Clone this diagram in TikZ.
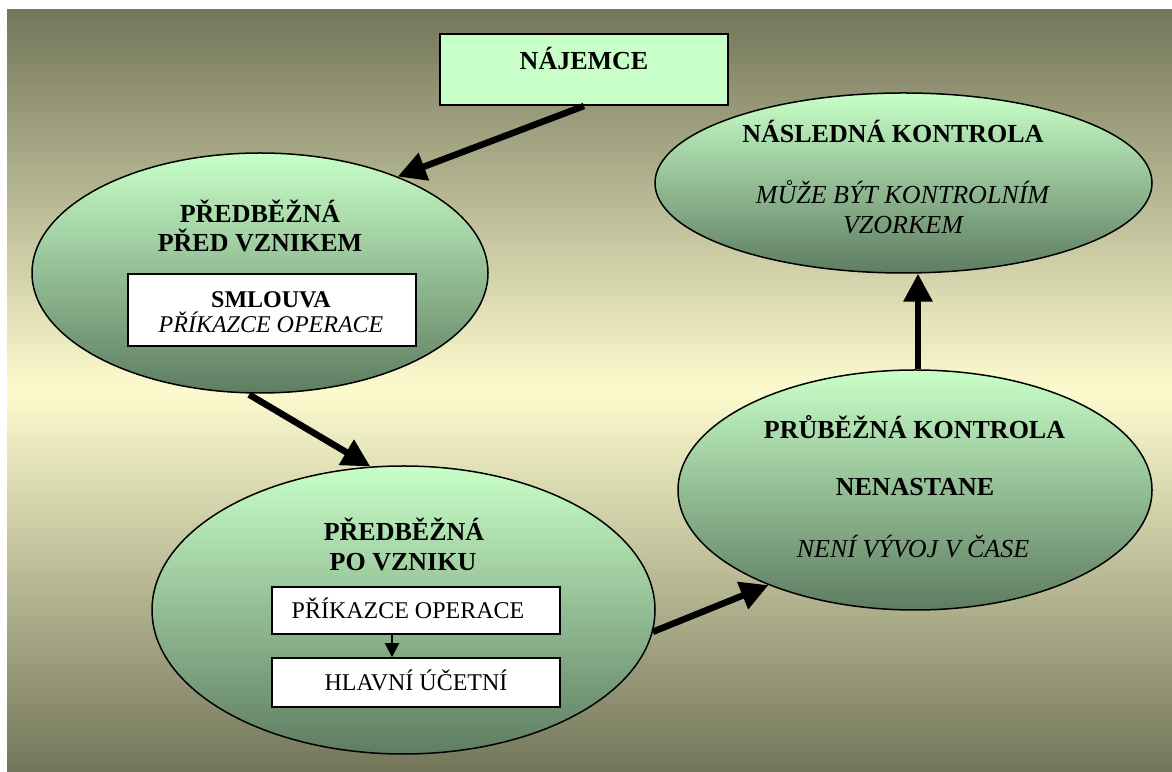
\documentclass[tikz,border=0pt]{standalone}
\usepackage{fontspec}
\setmainfont{Liberation Serif}
\usetikzlibrary{shapes.geometric,arrows.meta}

\definecolor{bgdark}{RGB}{115,118,90}
\definecolor{bglight}{RGB}{253,251,206}
\definecolor{mint}{RGB}{200,255,200}
\definecolor{deepgreen}{RGB}{94,124,97}

\tikzset{
  stage/.style={ellipse, draw=black, line width=1.5pt, inner sep=0pt,
    top color=mint, bottom color=deepgreen},
  topbox/.style={rectangle, draw=black, line width=2pt, fill=mint, inner sep=0pt},
  innerbox/.style={rectangle, draw=black, line width=1.5pt, fill=white, inner sep=0pt},
  title/.style={anchor=base, font=\bfseries\fontsize{26}{30}\selectfont},
  note/.style={anchor=base, font=\itshape\fontsize{26}{30}\selectfont},
  boxbold/.style={anchor=base, font=\bfseries\fontsize{24}{28}\selectfont},
  boxital/.style={anchor=base, font=\itshape\fontsize{24}{28}\selectfont},
  boxtext/.style={anchor=base, font=\fontsize{24}{28}\selectfont},
  flow/.style={line width=6.5pt, -{Triangle[length=28pt,width=28pt]}},
  thinflow/.style={line width=2pt, -{Triangle[length=14pt,width=14pt]}}
}

\begin{document}
\begin{tikzpicture}[x=1pt,y=1pt]
  \useasboundingbox (0,0) rectangle (1172,771);
  % backdrop
  \path[top color=bgdark, bottom color=bgdark, middle color=bglight]
    (7,0) rectangle (1172,761);

  % tenant
  \node[topbox, minimum width=288pt, minimum height=71pt] (najemce) at (584,701.5) {};
  \node[title] (tnajemce) at (584,701) {NÁJEMCE};

  % preliminary control before the obligation arises
  \node[stage, minimum width=456pt, minimum height=240pt] (e1) at (260,498) {};
  \node[title] (t1a) at (260,548) {PŘEDBĚŽNÁ};
  \node[title] (t1b) at (260,519) {PŘED VZNIKEM};
  \node[innerbox, minimum width=288pt, minimum height=72pt] (smlouva) at (272,461) {};
  \node[boxbold] (tsm1) at (271,463) {SMLOUVA};
  \node[boxital] (tsm2) at (271,438) {PŘÍKAZCE OPERACE};

  % preliminary control after the obligation arises
  \node[stage, minimum width=503pt, minimum height=288pt] (e2) at (403.5,161) {};
  \node[title] (t2a) at (404,230) {PŘEDBĚŽNÁ};
  \node[title] (t2b) at (403,200) {PO VZNIKU};
  \node[innerbox, minimum width=288pt, minimum height=47pt] (prikazce) at (416,160.5) {};
  \node[boxtext] (tpr) at (408,152.7) {PŘÍKAZCE OPERACE};
  \node[innerbox, minimum width=288pt, minimum height=49pt] (ucetni) at (416,88.5) {};
  \node[boxtext] (tuc) at (416,80.3) {HLAVNÍ ÚČETNÍ};
  \draw[thinflow] (prikazce.south -| 392,0) -- (ucetni.north -| 392,0);

  % ongoing control
  \node[stage, minimum width=474pt, minimum height=240pt] (e3) at (915,281) {};
  \node[title] (t3a) at (914.5,332.7) {PRŮBĚŽNÁ KONTROLA};
  \node[title] (t3b) at (915,275) {NENASTANE};
  \node[note] (t3c) at (913,213.7) {NENÍ VÝVOJ V ČASE};

  % follow-up control
  \node[stage, minimum width=497pt, minimum height=180pt] (e4) at (903.5,588) {};
  \node[title] (t4a) at (893,628.3) {NÁSLEDNÁ KONTROLA};
  \node[note] (t4b) at (902.5,567.7) {MŮŽE BÝT KONTROLNÍM};
  \node[note] (t4c) at (903,537.7) {VZORKEM};

  % flow between the stages
  \draw[flow] (najemce.south) -- (e1.35.8);
  \draw[flow, shorten <=2pt] (e1.264.4) -- (e2.103.3);
  \draw[flow] (e2.-5.7) -- (e3.213.8);
  \draw[flow] ([xshift=3pt]e3.north) -- ([xshift=3pt]e3.north |- e4.south);
\end{tikzpicture}
\end{document}
